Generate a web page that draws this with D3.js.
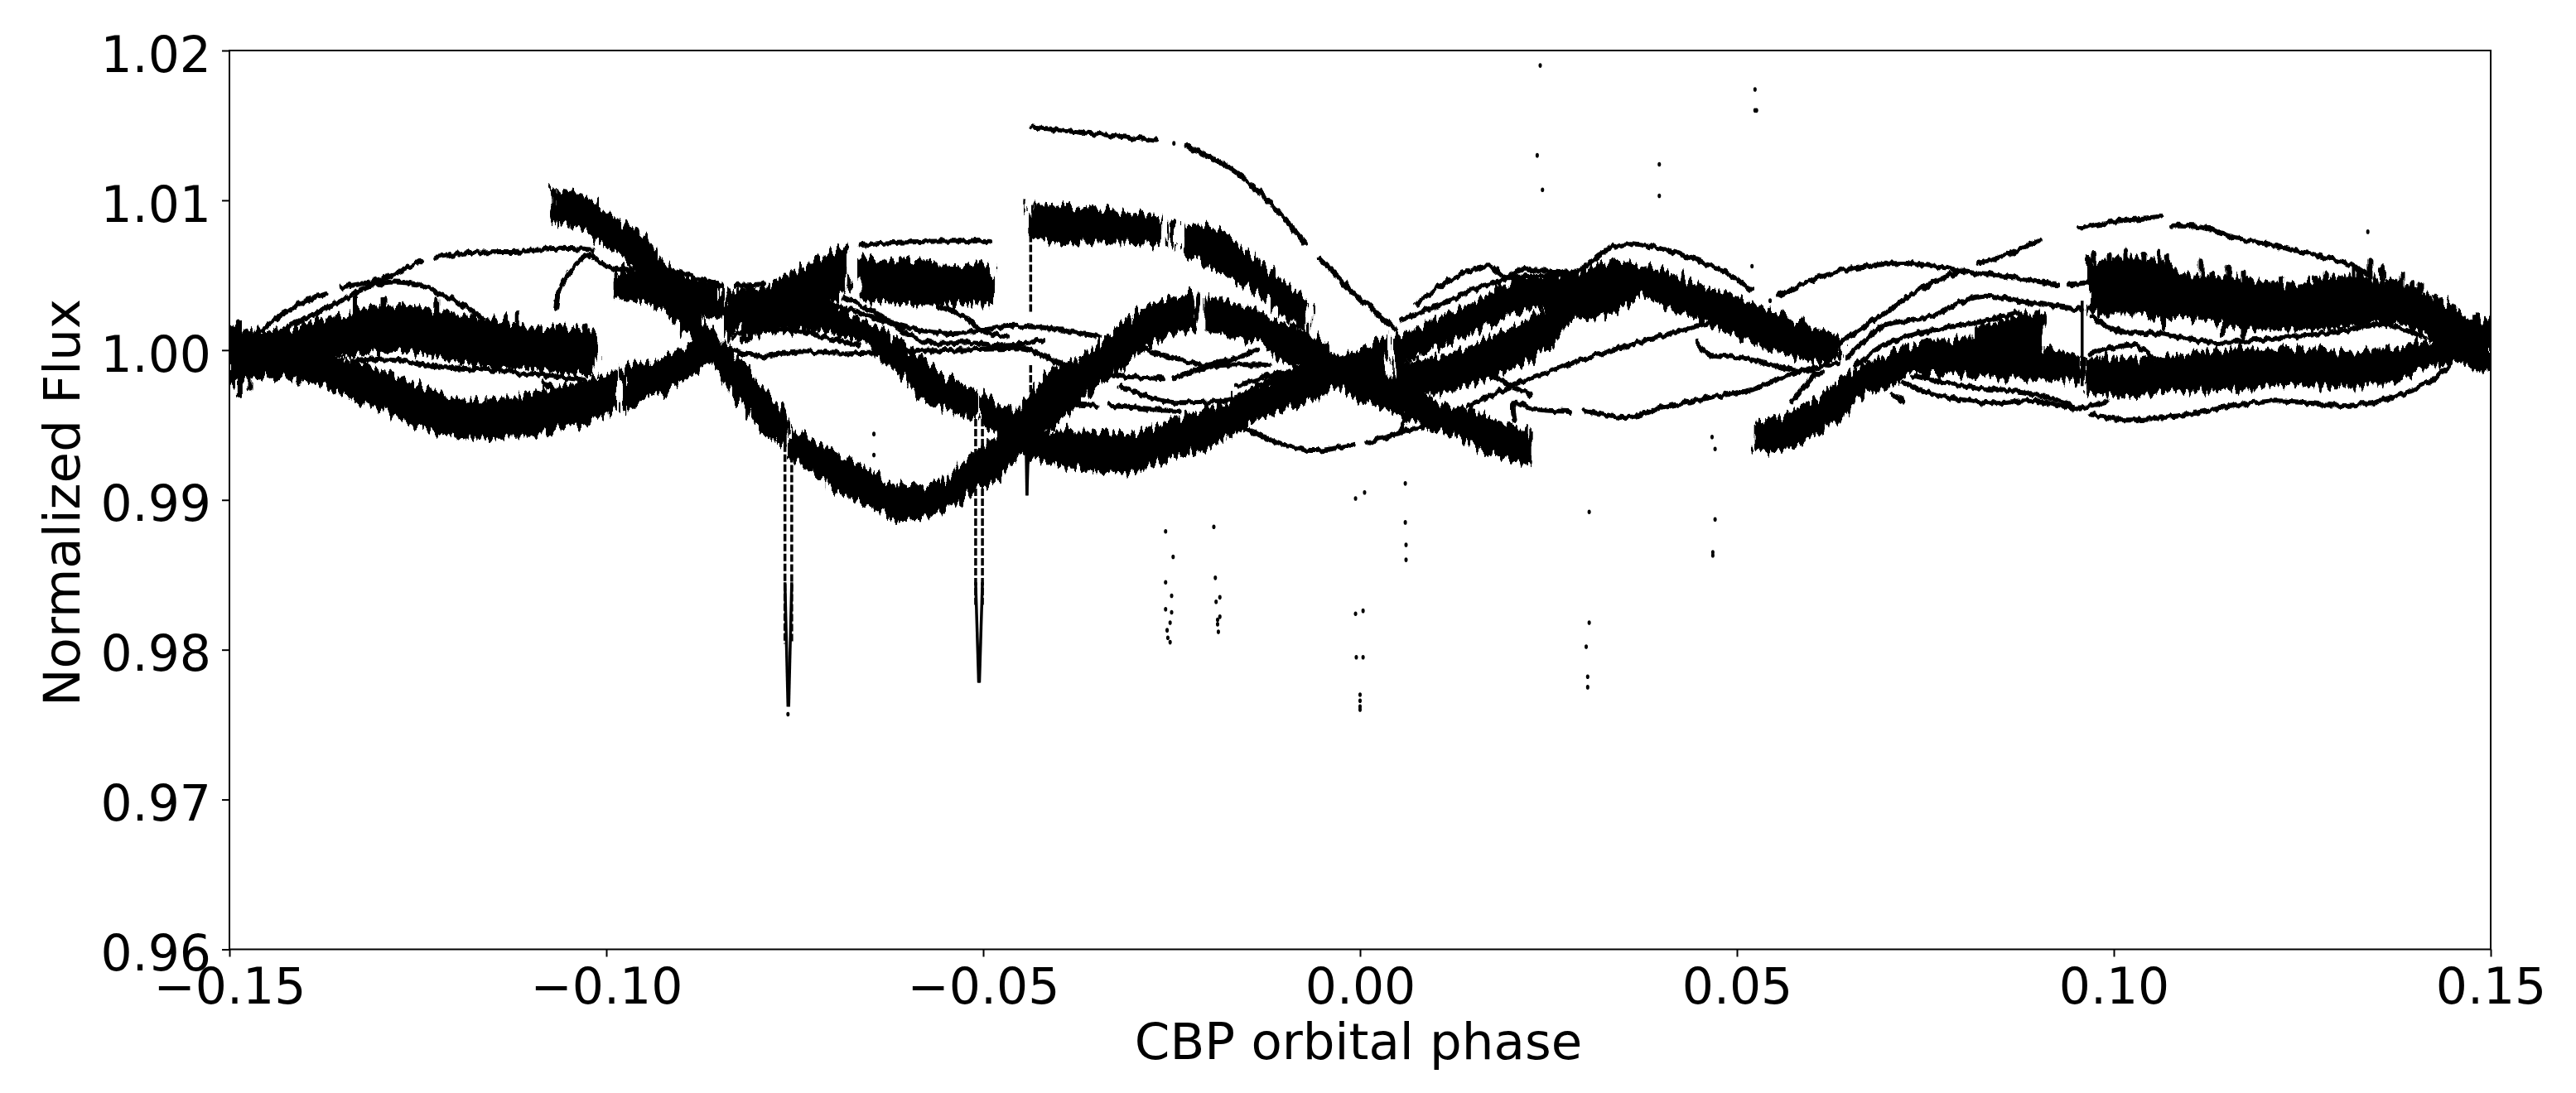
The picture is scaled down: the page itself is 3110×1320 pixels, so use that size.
<!DOCTYPE html>
<html><head><meta charset="utf-8">
<script src="https://cdn.jsdelivr.net/npm/d3@7/dist/d3.min.js"></script>
<style>html,body{margin:0;padding:0;background:#fff}svg{display:block}
text{font-family:"DejaVu Sans",sans-serif;fill:#000}</style></head><body>
<svg id="c" width="3110" height="1320"></svg>
<script>
// ---------- axis ticks ----------
const xTicks=[-0.15,-0.10,-0.05,0,0.05,0.10,0.15];
const yTicks=[0.96,0.97,0.98,0.99,1.00,1.01,1.02];
const xTitle="CBP orbital phase", yTitle="Normalized Flux";
// ---------- dense bands: [phase, upper flux, lower flux] ----------
const upperLeft=[[-.15,1.0014,.9979],[-.1449,1.0012,.9984],[-.1379,1.0019,.9996],[-.1337,1.0025,.9997],[-.1288,1.0029,1.0000],[-.1239,1.0027,.9998],[-.1183,1.0022,.9991],[-.1126,1.0018,.9989],[-.1098,1.0014,.9987],[-.1028,1.0013,.9985],[-.1016,1.0011,.9985]];
const lowerLeft=[[-.15,1.0005,.9978],[-.1449,1.0001,.9983],[-.1379,.9996,.9978],[-.1337,.9992,.9968],[-.1288,.9983,.9959],[-.1239,.9974,.9948],[-.1183,.9966,.9942],[-.1141,.9966,.9942],[-.1098,.9971,.9944],[-.1042,.9977,.9950],[-.0988,.9987,.9961]];
const lowerLeftRise=[[-.0976,.9989,.9960],[-.0923,.9994,.9974],[-.0888,1.0003,.9983],[-.0860,1.0009,.9992]];
const fallA=[[-.1070,1.0107,1.0086],[-.1035,1.0103,1.0082],[-.1000,1.0091,1.0070],[-.0958,1.0077,1.0053],[-.0923,1.0057,1.0031],[-.0902,1.0040,1.0016],[-.0874,1.0020,1.0005],[-.0853,1.0009,.9987],[-.0818,.9990,.9963],[-.0790,.9972,.9946],[-.0763,.9957,.9937]];
const dipCurve=[[-.0755,.9948,.9928],[-.0727,.9939,.9919],[-.0692,.9930,.9906],[-.0650,.9919,.9896],[-.0608,.9909,.9887],[-.0580,.9908,.9889],[-.0538,.9919,.9898],[-.0503,.9933,.9909],[-.0468,.9950,.9922],[-.0433,.9972,.9942],[-.0416,.9985,.9948],[-.0381,.9992,.9961],[-.0346,1.0003,.9979],[-.0310,1.0020,.9992],[-.0275,1.0030,1.0005],[-.0240,1.0035,1.0013],[-.0217,1.0036,1.0014]];
const fallB=[[-.0204,1.0036,1.0014],[-.0170,1.0031,1.0009],[-.0135,1.0025,1.0005],[-.0100,1.0018,.9992],[-.0065,1.0009,.9983],[-.0030,.9996,.9976],[.0005,.9989,.9966],[.0040,.9981,.9961],[.0075,.9972,.9952],[.0110,.9963,.9946],[.0145,.9959,.9939],[.0180,.9952,.9931],[.0226,.9946,.9924]];
const blockC=[[-.0985,1.0052,1.0036],[-.0923,1.0055,1.0029],[-.0888,1.0048,1.0024],[-.0846,1.0044,1.0022]];
const riseD=[[-.0843,1.0024,1.0009],[-.0829,1.0040,1.0014],[-.0790,1.0042,1.0020],[-.0748,1.0053,1.0024],[-.0713,1.0062,1.0029],[-.0680,1.0068,1.0040]];
const fallE=[[-.0818,1.0031,1.0009],[-.0748,1.0035,1.0014],[-.0678,1.0025,1.0009],[-.0622,1.0009,.9989],[-.0580,.9994,.9970],[-.0538,.9979,.9959],[-.0510,.9972,.9954]];
const blockF=[[-.0662,1.0060,1.0034],[-.0573,1.0058,1.0031],[-.0490,1.0057,1.0032]];
const fallTail=[[-.0501,.9970,.9952],[-.0475,.9963,.9942],[-.0447,.9952,.9931],[-.0416,.9946,.9926]];
const riseK=[[-.0444,.9955,.9941],[-.0416,.9946,.9926],[-.0381,.9945,.9922],[-.0346,.9944,.9920],[-.0304,.9944,.9919],[-.0275,.9948,.9924],[-.0240,.9955,.9931],[-.0205,.9959,.9935],[-.0170,.9966,.9944],[-.0135,.9976,.9954],[-.0100,.9983,.9961],[-.0065,.9990,.9968],[-.0030,.9993,.9976],[.0005,1.0001,.9976],[.0036,1.0009,.9972]];
const riseL1=[[.0047,1.0009,.9992],[.0075,1.0013,.9996],[.0110,1.0022,1.0005],[.0145,1.0029,1.0011],[.0180,1.0040,1.0020],[.0215,1.0048,1.0027],[.0250,1.0049,1.0029],[.0285,1.0051,1.0027]];
const riseL2=[[.0047,.9992,.9972],[.0075,.9992,.9972],[.0110,.9996,.9972],[.0145,1.0001,.9978],[.0180,1.0009,.9983],[.0215,1.0018,.9990],[.0250,1.0029,1.0003],[.0285,1.0042,1.0022],[.0334,1.0057,1.0025]];
const peakFall=[[.0285,1.0051,1.0022],[.0334,1.0058,1.0025],[.0373,1.0056,1.0036],[.0425,1.0048,1.0025],[.0495,1.0035,1.0011],[.0566,1.0021,.9998],[.0613,1.0012,.9992],[.0635,1.0010,.9995]];
const riseM=[[.0526,.9952,.9932],[.0569,.9957,.9935],[.0602,.9966,.9944],[.0635,.9978,.9954],[.0668,.9989,.9970],[.0701,.9996,.9976],[.0734,1.0003,.9985],[.0767,1.0005,.9985],[.0813,1.0007,.9983],[.0905,1.0000,.9981],[.0951,.9996,.9979],[.0958,.9994,.9978]];
const blockM2=[[.0816,1.0014,.9998],[.0833,1.0016,.9998],[.0872,1.0022,.9998],[.0905,1.0025,.9998]];
const flatM3=[[.0965,.9994,.9972],[.1030,.9994,.9970],[.1096,.9996,.9974],[.1162,1.0000,.9974],[.1228,1.0000,.9978],[.1294,.9998,.9976],[.1360,1.0000,.9979],[.1393,1.0003,.9983],[.1426,1.0007,.9992],[.1459,1.0013,.9992],[.15,1.0018,.9983]];
const noisyN=[[.0968,1.0059,1.0025],[.1030,1.0060,1.0025],[.1063,1.0059,1.0022],[.1096,1.0049,1.0022],[.1162,1.0048,1.0016],[.1228,1.0042,1.0014],[.1294,1.0048,1.0016],[.1360,1.0046,1.0018],[.1426,1.0035,1.0009],[.1459,1.0025,1.0001],[.15,1.0018,.9983]];
const blockH=[[-.0437,1.0098,1.0077],[-.0381,1.0095,1.0072],[-.0325,1.0092,1.0072],[-.0268,1.0088,1.0071]];
const blockSmall=[[-.0253,1.0086,1.0070],[-.0244,1.0086,1.0070]];
const fallI=[[-.0232,1.0083,1.0066],[-.0205,1.0082,1.0059],[-.0170,1.0072,1.0048],[-.0135,1.0059,1.0038],[-.0100,1.0044,1.0025],[-.0069,1.0030,1.0011]];
// ---------- thin strands: [phase, flux] ----------
const s1a=[[-.1456,1.0013],[-.1435,1.0022],[-.1407,1.0031],[-.1372,1.0038]];
const s1b=[[-.1351,1.0042],[-.1309,1.0046],[-.1288,1.0049],[-.1246,1.0060]];
const s1c=[[-.1225,1.0062],[-.1183,1.0065],[-.1112,1.0066],[-.1063,1.0068],[-.1018,1.0067]];
const s2=[[-.1428,1.0013],[-.1400,1.0021],[-.1358,1.0031],[-.1323,1.0041],[-.1295,1.0045],[-.1253,1.0044],[-.1218,1.0037],[-.1183,1.0028],[-.1162,1.0020]];
const s3=[[-.1067,1.0028],[-.1063,1.0038],[-.1053,1.0049],[-.1035,1.0060],[-.1018,1.0064]];
const s4=[[-.1018,1.0063],[-.1000,1.0056],[-.0965,1.0053]];
const s5=[[-.0958,1.0058],[-.0916,1.0053],[-.0846,1.0043]];
const s6=[[-.0829,1.0043],[-.0790,1.0044]];
const m1=[[-.1337,.9992],[-.1288,.9994],[-.1239,.9990],[-.1169,.9987],[-.1098,.9984],[-.1028,.9980]];
const m2=[[-.1084,.9979],[-.1063,.9972]];
const stripF=[[-.0662,1.0070],[-.0608,1.0072],[-.0490,1.0073]];
const t1=[[-.0832,1.0009],[-.0804,1.0014],[-.0748,1.0013],[-.0713,1.0009],[-.0664,1.0003]];
const t1b=[[-.0832,1.0000],[-.0797,.9996],[-.0748,.9999],[-.0692,.9998],[-.0622,.9999],[-.0538,1.0000],[-.0468,1.0001],[-.0444,1.0001],[-.0394,.9990],[-.0346,.9981]];
const t2=[[-.0706,1.0031],[-.0664,1.0025],[-.0622,1.0018],[-.0580,1.0013],[-.0538,1.0011],[-.0468,1.0016],[-.0420,1.0015],[-.0346,1.0009]];
const t3=[[-.0685,1.0035],[-.0643,1.0025],[-.0608,1.0013],[-.0573,1.0005],[-.0524,1.0005],[-.0468,1.0003],[-.0420,1.0007]];
const t5=[[-.0559,1.0029],[-.0524,1.0022],[-.0503,1.0013],[-.0468,1.0009]];
const c1=[[-.0289,1.0001],[-.0240,.9994],[-.0205,.9990],[-.0135,1.0000]];
const c2=[[-.0332,.9983],[-.0261,.9981]];
const c3=[[-.0247,.9981],[-.0198,.9989],[-.0121,.9990]];
const c4=[[-.0318,.9976],[-.0261,.9966],[-.0219,.9965],[-.0163,.9968],[-.0107,.9983],[-.0065,.9990]];
const c5=[[-.0388,.9964],[-.0349,.9963]];
const c6=[[-.0332,.9963],[-.0240,.9959]];
const c7=[[-.0163,.9976],[-.0107,.9985]];
const w1=[[-.0149,.9947],[-.0107,.9938],[-.0065,.9933],[-.0009,.9937]];
const w2=[[.0008,.9938],[.0061,.9946],[.0117,.9955]];
const hookX=[[.0054,.9946],[.0064,.9959]];
const y1=[[.0205,.9953],[.0205,.9965],[.0229,.9961],[.0278,.9959]];
const y2=[[.0296,.9960],[.0355,.9955],[.0397,.9961],[.0460,.9968],[.0523,.9974],[.0565,.9983],[.0613,.9989],[.0635,.9991]];
const z1=[[.0145,.9963],[.0215,.9979],[.0285,.9992],[.0355,1.0003],[.0411,1.0011],[.0460,1.0018]];
const z2=[[.0159,.9987],[.0226,.9970]];
const aa=[[.0446,1.0006],[.0460,.9998],[.0506,.9995],[.0556,.9989],[.0613,.9984]];
const bb=[[.0572,.9965],[.0602,.9983]];
const u1=[[.0075,1.0031],[.0110,1.0044],[.0145,1.0053],[.0173,1.0056],[.0194,1.0049],[.0215,1.0054],[.0285,1.0052],[.0306,1.0059],[.0327,1.0067],[.0355,1.0071],[.0397,1.0068],[.0453,1.0059],[.0495,1.0049],[.0518,1.0040]];
const u2=[[.0054,1.0020],[.0110,1.0031],[.0159,1.0042],[.0208,1.0049],[.0285,1.0049]];
const g1=[[-.0437,1.0149],[-.0381,1.0146],[-.0325,1.0143],[-.0270,1.0140]];
const g2=[[-.0230,1.0136],[-.0191,1.0127],[-.0163,1.0118],[-.0121,1.0099],[-.0074,1.0072]];
const g3=[[-.0055,1.0062],[-.0002,1.0035],[.0047,1.0014]];
const v1=[[.0555,1.0036],[.0622,1.0051],[.0721,1.0058],[.0800,1.0053],[.0872,1.0048],[.0925,1.0044]];
const v2=[[.0942,1.0044],[.0965,1.0045]];
const r1=[[.0820,1.0058],[.0859,1.0064],[.0902,1.0074]];
const p1=[[.0955,1.0082],[.1004,1.0086],[.1063,1.0089]];
const p2=[[.1077,1.0083],[.1116,1.0082],[.1162,1.0075],[.1228,1.0068],[.1314,1.0057],[.1340,1.0049]];
const q1=[[.0638,1.0005],[.0694,1.0024],[.0747,1.0042],[.0800,1.0053]];
const q2=[[.0645,.9994],[.0694,1.0016],[.0754,1.0022],[.0813,1.0035],[.0833,1.0036],[.0899,1.0031],[.0958,1.0027]];
const q3=[[.0658,.9990],[.0701,1.0005],[.0767,1.0014],[.0813,1.0018],[.0872,1.0025]];
const low1=[[.0721,.9978],[.0767,.9970],[.0833,.9965],[.0899,.9966],[.0945,.9961],[.0991,.9966]];
const low2=[[.0734,.9983],[.0800,.9976],[.0899,.9970],[.0945,.9963]];
const low3=[[.0707,.9970],[.0721,.9966]];
const low4=[[.0971,.9957],[.1011,.9954],[.1083,.9956],[.1162,.9963],[.1215,.9966],[.1314,.9963],[.1366,.9968],[.1426,.9981],[.1445,.9989]];
const mid1=[[.0971,1.0022],[.1004,1.0013],[.1063,1.0011],[.1129,1.0005],[.1195,1.0007],[.1294,1.0012],[.1360,1.0017],[.1413,1.0008]];
const mid2=[[.0971,.9998],[.1030,1.0003],[.1057,.9992]];
// ---------- vertical spikes at the noisy edges: [phase, flux from, flux to] ----------
const spikes=[[.0974,1.0064,1.0050],[.0994,1.0063,1.0050],[.1004,1.0059,1.0050],[.1017,1.0066,1.0050],[.1027,1.0060,1.0050],[.1040,1.0064,1.0050],[.1050,1.0060,1.0050],[.1060,1.0066,1.0050],[.1070,1.0063,1.0050],[.1083,1.0053,1.0040],[.1100,1.0051,1.0040],[.1116,1.0060,1.0040],[.1129,1.0051,1.0040],[.1152,1.0056,1.0040],[.1172,1.0052,1.0040],[.1195,1.0044,1.0035],[.1212,1.0045,1.0035],[.1221,1.0047,1.0035],[.1235,1.0043,1.0035],[.1268,1.0048,1.0038],[.1281,1.0051,1.0040],[.1300,1.0048,1.0038],[.1317,1.0056,1.0040],[.1327,1.0051,1.0040],[.1340,1.0060,1.0040],[.1356,1.0055,1.0040],[.1373,1.0046,1.0036],[.1383,1.0051,1.0040],[.1396,1.0045,1.0035],[.1406,1.0044,1.0030],[.1426,1.0036,1.0028],[.1452,1.0029,1.0020],[.1478,1.0022,1.0012],
 [.1145,1.0025,1.0011],[.1172,1.0025,1.0009],[.1066,1.0025,1.0014],
 [-.1333,1.0035,1.0015],[-.1295,1.0034,1.0015],[-.1270,1.0031,1.0015],[-.1225,1.0034,1.0015],[-.1119,1.0025,1.0010],[-.1063,1.0016,1.0005],[-.1028,1.0016,1.0005],
 [-.1487,.9985,.9970],[-.1473,.9985,.9974],[-.1408,.9990,.9978],[-.1488,1.0019,1.0005]];
// ---------- transit needles ----------
const needleColumns=[[-.0763,.9937,.9804],[-.0754,.9930,.9804],[-.0510,.9954,.9830],[-.0501,.9954,.9830],[-.0437,1.0077,1.0025],[-.0437,.9990,.9959]];
const needleSolid=[[-.0763,.9845,-.0759,.9762],[-.0754,.9845,-.0758,.9762],[-.0510,.9845,-.0506,.9778],[-.0501,.9845,-.0505,.9778],[-.0443,.9935,-.0442,.9903],[-.0440,.9935,-.0442,.9903],[.0958,1.0033,.0958,.9976]];
// ---------- isolated points: [phase, flux] ----------
const points=[[-.0645,.9944],[-.0645,.9930],[-.0258,.9879],[-.0248,.9862],[-.0258,.9845],[-.0250,.9836],[-.0258,.9827],[-.0250,.9825],[-.0252,.9818],[-.0256,.9813],[-.0255,.9808],[-.0252,.9805],[-.0194,.9882],[-.0192,.9848],[-.0186,.9835],[-.0191,.9832],[-.0186,.9822],[-.0189,.9820],[-.0189,.9817],[-.0188,.9812],[-.0006,.9901],[.0006,.9905],[.0060,.9911],[.0060,.9885],[.0061,.9870],[.0061,.9860],[-.0006,.9824],[.0004,.9826],[-.0005,.9795],[.0004,.9795],[0,.9770],[0,.9766],[0,.9762],[0,.9760],[.0304,.9892],[.0304,.9818],[.0300,.9802],[.0302,.9782],[.0302,.9775],[.0467,.9942],[.0471,.9934],[.0471,.9887],[.0468,.9865],[.0468,.9863],[.0526,1.0160],[.0235,1.0130],[.0242,1.0107],[.0397,1.0124],[.0397,1.0103],[.0239,1.0190],[.0524,1.0174],[.0524,1.0160],[.0520,1.0056],[.0544,1.0033],[.1337,1.0079],[-.0247,1.0138],[-.0759,.9757]];

const bands=[upperLeft,lowerLeft,lowerLeftRise,fallA,dipCurve,fallB,blockC,riseD,fallE,blockF,fallTail,riseK,riseL1,riseL2,peakFall,riseM,blockM2,flatM3,noisyN,blockH,blockSmall,fallI];
const strands=[s1a,s1b,s1c,s2,s3,s4,s5,s6,m1,m2,stripF,t1,t1b,t2,t3,t5,c1,c2,c3,c4,c5,c6,c7,w1,w2,hookX,y1,y2,z1,z2,aa,bb,u1,u2,g1,g2,g3,v1,v2,r1,p1,p2,q1,q2,q3,low1,low2,low3,low4,mid1,mid2];

const L=277,R=3007,T=61,B=1146.5;
const x=d3.scaleLinear().domain([-0.15,0.15]).range([L,R]);
const y=d3.scaleLinear().domain([0.96,1.02]).range([B,T]);
const svg=d3.select("#c");
const defs=svg.append("defs");
defs.append("clipPath").attr("id","plot").append("rect").attr("x",L).attr("y",T).attr("width",R-L).attr("height",B-T);
function rough(id,fx,fy,scale,blur){
  const f=defs.append("filter").attr("id",id).attr("filterUnits","userSpaceOnUse").attr("x",0).attr("y",0).attr("width",3110).attr("height",1320);
  f.append("feTurbulence").attr("type","fractalNoise").attr("baseFrequency",fx+" "+fy).attr("numOctaves",2).attr("seed",4).attr("result","n");
  f.append("feDisplacementMap").attr("in","SourceGraphic").attr("in2","n").attr("scale",scale).attr("xChannelSelector","A").attr("yChannelSelector","R").attr("result","d");
  f.append("feGaussianBlur").attr("in","d").attr("stdDeviation",blur);
}
rough("bandEdge",0.2,0.03,26,0.5);
rough("strandEdge",0.16,0.05,8,0.5);
const soft=defs.append("filter").attr("id","soft");
soft.append("feGaussianBlur").attr("stdDeviation",0.6);

const plot=svg.append("g").attr("clip-path","url(#plot)");
const area=d3.area().x(d=>x(d[0])).y0(d=>y(d[1])).y1(d=>y(d[2])).curve(d3.curveMonotoneX);
const line=d3.line().x(d=>x(d[0])).y(d=>y(d[1])).curve(d3.curveCatmullRom);

plot.append("g").attr("filter","url(#bandEdge)").selectAll("path").data(bands).join("path").attr("d",area)
  .attr("fill","#000").attr("stroke","#000").attr("stroke-width",4);
plot.append("g").attr("filter","url(#strandEdge)").selectAll("line").data(spikes).join("line")
  .attr("x1",d=>x(d[0])).attr("x2",d=>x(d[0])).attr("y1",d=>y(d[1])).attr("y2",d=>y(d[2]))
  .attr("stroke","#000").attr("stroke-width",6).attr("stroke-linecap","round");
plot.append("g").attr("filter","url(#strandEdge)").selectAll("path").data(strands).join("path").attr("d",line)
  .attr("fill","none").attr("stroke","#000").attr("stroke-width",6).attr("stroke-linecap","round");
const soften=plot.append("g").attr("filter","url(#soft)");
soften.append("g").selectAll("line").data(needleColumns).join("line")
  .attr("x1",d=>x(d[0])).attr("x2",d=>x(d[0])).attr("y1",d=>y(d[1])).attr("y2",d=>y(d[2]))
  .attr("stroke","#000").attr("stroke-width",3.5).attr("stroke-dasharray","9 3");
soften.append("g").selectAll("line").data(needleSolid).join("line")
  .attr("x1",d=>x(d[0])).attr("x2",d=>x(d[2])).attr("y1",d=>y(d[1])).attr("y2",d=>y(d[3]))
  .attr("stroke","#000").attr("stroke-width",3.5);
soften.append("g").selectAll("ellipse").data(points).join("ellipse")
  .attr("cx",d=>x(d[0])).attr("cy",d=>y(d[1])).attr("rx",2).attr("ry",2.8).attr("fill","#000");

const fmt=d=>d3.format(".2f")(d).replace("-","\u2212");
const frame=svg.append("g").attr("filter","url(#soft)");
frame.append("rect").attr("x",L).attr("y",T).attr("width",R-L).attr("height",B-T).attr("fill","none").attr("stroke","#000").attr("stroke-width",2);
const ax=frame.append("g").attr("transform",`translate(0,${B})`)
  .call(d3.axisBottom(x).tickValues(xTicks).tickFormat(fmt).tickSize(9).tickPadding(14));
const ay=frame.append("g").attr("transform",`translate(${L},0)`)
  .call(d3.axisLeft(y).tickValues(yTicks).tickFormat(fmt).tickSize(9).tickPadding(13));
[ax,ay].forEach(a=>{a.select(".domain").remove();a.selectAll("line").attr("stroke","#000").attr("stroke-width",2);
  a.selectAll("text").attr("font-size",60).attr("font-family",'"DejaVu Sans",sans-serif').attr("fill","#000");});
ay.selectAll("text").attr("dy","0.42em");
frame.append("text").attr("x",1640).attr("y",1279).attr("text-anchor","middle").attr("font-size",61).text(xTitle);
frame.append("text").attr("transform","translate(96,607) rotate(-90)").attr("text-anchor","middle").attr("font-size",61).text(yTitle);
</script></body></html>
